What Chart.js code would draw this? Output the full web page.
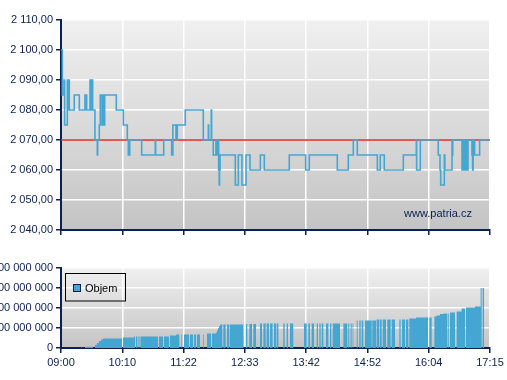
<!DOCTYPE html>
<html><head><meta charset="utf-8">
<script src="https://cdn.jsdelivr.net/npm/chart.js@4/dist/chart.umd.min.js"></script>
<style>
html,body{margin:0;padding:0;background:#fff;width:507px;height:380px;overflow:hidden}
#c1{position:absolute;left:0;top:0}
#c2{position:absolute;left:0;top:240px}
</style></head><body>
<canvas id="c1" width="507" height="240"></canvas>
<canvas id="c2" width="507" height="140"></canvas>
<script>
// ---- data (time = minutes after 09:00) ----
const tickMinutes = [0, 70.7, 141.4, 212.1, 282.9, 353.6, 424.3, 495];
const timeLabels = ["09:00", "10:10", "11:22", "12:33", "13:42", "14:52", "16:04", "17:15"];
const priceTicks = [2040, 2050, 2060, 2070, 2080, 2090, 2100, 2110];
const volumeTicks = [0, 100, 200, 300, 400]; // millions
const prevClose = 2070;

const priceTimes = [0,1.5,3.5,4.2,7.3,8.5,8.8,9.6,15.3,21.1,27.7,28.5,29.0,29.6,33.5,34.2,34.8,35.5,36.0,36.5,39.2,41.9,42.3,44.2,45.3,47.3,48.0,48.7,49.4,50.0,50.4,63.8,71.9,76.5,77.7,78.3,78.8,79.3,93.1,108.8,109.2,118.5,127.7,128.3,128.7,129.1,132.7,133.3,133.8,134.2,143.4,164.2,170.0,170.4,173.4,173.8,175.7,178.8,179.6,180.2,181.0,181.5,181.9,182.6,182.9,183.5,201.1,204.6,208.8,213.5,218.1,230.0,234.6,263.4,282.3,286.5,318.8,331.5,337.3,341.9,365.0,368.4,373.0,395.0,410.0,410.3,414.6,435.3,437.3,438.1,442.3,442.9,451.2,451.6,452.0,462.7,463.5,464.2,465.9,466.5,468.2,468.8,469.6,474.2,474.9,475.5,476.1,476.7,477.3,483.0,495];
const priceValues = [2100,2085,2090,2075,2090,2080,2090,2080,2085,2080,2085,2080,2085,2080,2090,2080,2090,2080,2090,2080,2070,2065,2070,2075,2085,2075,2085,2075,2085,2075,2085,2080,2075,2070,2065,2070,2065,2070,2065,2070,2065,2070,2065,2070,2065,2075,2070,2075,2070,2075,2080,2070,2075,2070,2080,2070,2065,2070,2065,2070,2065,2070,2060,2055,2060,2065,2055,2065,2055,2065,2060,2065,2060,2065,2060,2065,2060,2065,2070,2065,2060,2065,2060,2065,2070,2060,2070,2065,2060,2055,2065,2060,2070,2065,2070,2060,2070,2060,2070,2060,2070,2060,2070,2065,2060,2070,2065,2070,2065,2070,2070];

// cumulative volume blocks (start, end, value in millions)
const volStart = [23.1,27.7,39.2,41.5,43.8,46.2,48.5,71.5,84.2,86.5,89.4,91.7,113.1,118.8,125.8,132.7,138.5,141.9,148.8,153.5,156.9,163.8,168.5,174.2,178.8,180.0,181.2,182.3,183.5,187.3,191.5,194.6,213.5,217.3,221.9,229.6,233.5,237.3,241.2,245.8,248.8,256.5,260.4,264.2,280.4,285.4,289.2,295.0,298.1,300.8,305.8,310.4,313.5,325.8,331.5,334.2,336.5,341.2,344.2,346.9,350.8,359.2,364.2,368.1,371.2,376.5,381.5,390.4,393.5,398.1,401.9,409.6,425.0,430.8,433.5,437.3,441.2,446.9,448.8,456.5,462.3,467.3,477.7,484.2,486.5];
const volEnd   = [24.2,36.9,41.5,43.8,46.2,48.5,70.4,84.2,85.4,88.2,90.6,111.9,117.7,124.6,132.7,136.5,139.2,147.7,152.3,155.8,160.4,164.6,173.1,178.8,180.0,181.2,182.3,183.5,186.2,190.0,193.8,210.4,215.0,220.4,225.0,231.9,236.2,240.0,244.2,248.1,250.8,258.1,261.9,268.0,283.5,287.3,291.9,296.5,299.6,302.7,308.5,311.9,321.9,330.4,332.7,335.4,337.3,342.3,345.8,348.8,358.5,363.5,367.3,370.0,375.0,380.4,385.4,391.9,396.9,400.8,409.6,423.5,427.7,433.5,437.3,441.2,445.8,447.7,454.6,462.3,466.2,477.7,484.2,485.4,488.1];
const volValue = [3,6,15,25,35,42,47,53,58,58,58,58,58,58,63,67,67,67,67,67,67,67,72,72,78,88,100,110,117,117,117,117,120,120,120,122,122,122,122,122,122,122,122,122,122,122,122,122,122,122,122,122,122,122,122,122,122,137,137,137,137,137,142,142,142,142,142,142,142,142,148,153,153,158,163,170,173,173,178,183,197,203,208,300,300];

// ---- helpers ----
const NAVY = '#0b2150';
const BLUE = '#45a6d2';
const FONT = {family: "'Liberation Sans', Arial, sans-serif", size: 11};
function fmtThousands(v){ return Math.round(v).toString().replace(/\B(?=(\d{3})+(?!\d))/g, ' '); }

const pricePoints = priceTimes.map((t,i)=>({x:t, y:priceValues[i]}));
const volPoints = [{x:0,y:0}];
volStart.forEach((s,i)=>{ volPoints.push({x:s, y:volValue[i]}); volPoints.push({x:volEnd[i], y:0}); });
volPoints.push({x:495, y:0});

const bgPlugin = {
  id:'bg',
  beforeDraw(chart){
    const a = chart.chartArea, ctx = chart.ctx;
    const g = ctx.createLinearGradient(0, a.top, 0, a.bottom);
    g.addColorStop(0, '#f0f0f0');
    g.addColorStop(1, '#c4c4c4');
    ctx.save(); ctx.fillStyle = g; ctx.fillRect(a.left, a.top, a.right-a.left, a.bottom-a.top); ctx.restore();
  }
};

function xScale(showLabels){
  return {
    type:'linear', min:0, max:495,
    afterBuildTicks(s){ s.ticks = tickMinutes.map(v=>({value:v})); },
    afterFit(s){ s.height = showLabels ? 32 : 10; },
    grid:{ color: c => (c.tick && c.tick.value === 0) ? 'rgba(0,0,0,0)' : '#ffffff', lineWidth:1.5, tickColor:NAVY, tickLength:5, tickWidth:1.5 },
    border:{ display:true, color:NAVY, width:2 },
    ticks:{ display:showLabels, autoSkip:false, maxRotation:0, padding:3, color:NAVY, font:FONT,
      callback:(v,i)=>timeLabels[i] }
  };
}
function yScale(ticksArr, fmt){
  return {
    type:'linear', min:ticksArr[0], max:ticksArr[ticksArr.length-1],
    afterBuildTicks(s){ s.ticks = ticksArr.map(v=>({value:v})); },
    afterFit(s){ s.width = 61; },
    grid:{ color: c => (c.tick && c.tick.value === ticksArr[0]) ? 'rgba(0,0,0,0)' : '#ffffff', lineWidth:1.5, tickColor:NAVY, tickLength:5, tickWidth:1.5 },
    border:{ display:true, color:NAVY, width:2 },
    ticks:{ padding:3, color:NAVY, font:FONT, callback: fmt }
  };
}

// ---- top: price ----
new Chart(document.getElementById('c1'), {
  type:'line',
  data:{ datasets:[
    { data: pricePoints, stepped:'before', borderColor:BLUE, borderWidth:1.6, pointRadius:0, fill:false },
    { data: [{x:0,y:prevClose},{x:495,y:prevClose}], borderColor:'#e0231c', borderWidth:1.5, pointRadius:0, fill:false }
  ]},
  options:{
    responsive:false, animation:false, devicePixelRatio:1,
    layout:{ padding:{ top:20, right:17, left:0, bottom:0 } },
    plugins:{ legend:{display:false}, tooltip:{enabled:false} },
    scales:{ x: xScale(false), y: yScale(priceTicks, v => fmtThousands(v) + ',00') }
  },
  plugins:[bgPlugin, { id:'wm', afterDatasetsDraw(chart){
    const ctx = chart.ctx; ctx.save(); ctx.fillStyle = NAVY;
    ctx.font = "11px 'Liberation Sans', Arial, sans-serif"; ctx.textAlign='center'; ctx.textBaseline='middle';
    ctx.fillText('www.patria.cz', 438, 214); ctx.restore(); } }]
});

// ---- bottom: cumulative volume ----
new Chart(document.getElementById('c2'), {
  type:'line',
  data:{ datasets:[
    { label:'Objem', data: volPoints, stepped:'before', borderWidth:0, borderColor:BLUE, backgroundColor:BLUE, pointRadius:0, fill:'origin' }
  ]},
  options:{
    responsive:false, animation:false, devicePixelRatio:1,
    layout:{ padding:{ top:28, right:17, left:0, bottom:0 } },
    plugins:{ legend:{display:false}, tooltip:{enabled:false} },
    scales:{ x: xScale(true), y: yScale(volumeTicks, v => v === 0 ? '0' : fmtThousands(v*1000000)) }
  },
  plugins:[bgPlugin, { id:'lg', afterDraw(chart){
    const ctx = chart.ctx; ctx.save();
    ctx.strokeStyle = '#000'; ctx.lineWidth = 1; ctx.strokeRect(65.5, 33.5, 60, 27.5);
    ctx.fillStyle = BLUE; ctx.fillRect(73.5, 44.5, 7, 7);
    ctx.strokeStyle = NAVY; ctx.strokeRect(73.5, 44.5, 7, 7);
    ctx.fillStyle = '#000'; ctx.font = "11px 'Liberation Sans', Arial, sans-serif"; ctx.textBaseline='middle'; ctx.textAlign='left';
    ctx.fillText('Objem', 85, 48.5); ctx.restore(); } }]
});
</script>
</body></html>
